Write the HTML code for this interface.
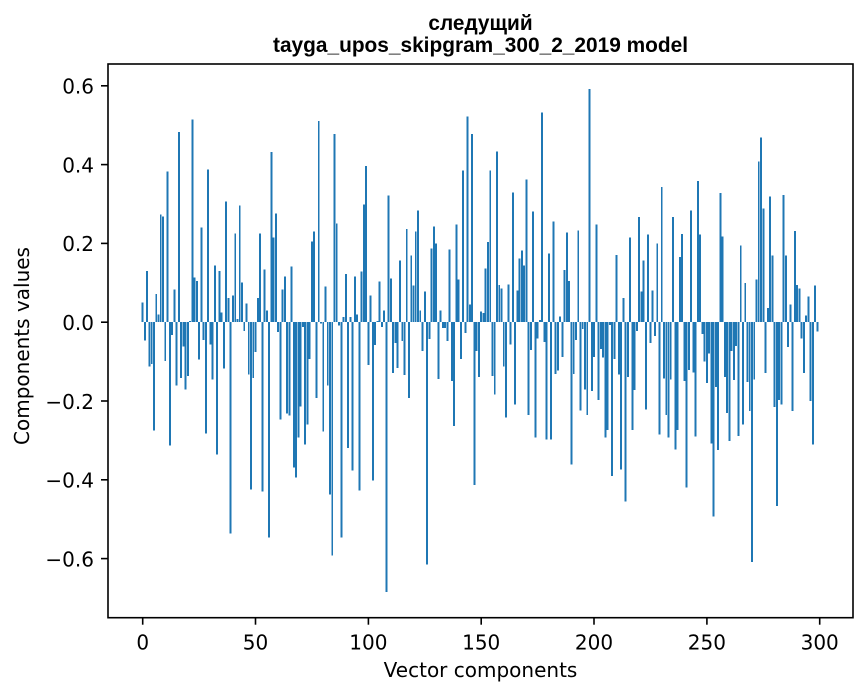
<!DOCTYPE html>
<html>
<head>
<meta charset="utf-8">
<style>
html,body{margin:0;padding:0;background:#fff;}
svg{display:block;}
.tk{font-family:"DejaVu Sans","Liberation Sans",sans-serif;font-size:20px;fill:#000;}
.tt{font-family:"Liberation Sans","DejaVu Sans",sans-serif;font-size:20.8px;font-weight:bold;fill:#000;}
</style>
</head>
<body>
<svg width="867" height="696" viewBox="0 0 867 696" xmlns="http://www.w3.org/2000/svg">
<rect x="0" y="0" width="867" height="696" fill="#fff"/>
<g transform="translate(142.7,322.2) scale(2.2567,-394)">
<path fill="#1f77b4" shape-rendering="crispEdges" d="M-.43 0
h.86V.05h-.86zm1 0h.86V-.047h-.86zm1 0h.86V.13h-.86zm1 0h.86V-.113h-.86zm1 0h.86V-.106h-.86zm1 0h.86V-.275h-.86zm1 0h.86V.071h-.86zm1 0h.86V.02h-.86zm1 0h.86V.273h-.86zm1 0h.86V.268h-.86zm1 0
h.86V-.098h-.86zm1 0h.86V.382h-.86zm1 0h.86V-.313h-.86zm1 0h.86V-.032h-.86zm1 0h.86V.083h-.86zm1 0h.86V-.161h-.86zm1 0h.86V.483h-.86zm1 0h.86V-.141h-.86zm1 0h.86V-.062h-.86zm1 0h.86V-.171h-.86zm1 0
h.86V-.136h-.86zm1 0h.86V.003h-.86zm1 0h.86V.514h-.86zm1 0h.86V.114h-.86zm1 0h.86V.104h-.86zm1 0h.86V-.095h-.86zm1 0h.86V.24h-.86zm1 0h.86V-.045h-.86zm1 0h.86V-.283h-.86zm1 0h.86V.387h-.86zm1 0
h.86V-.057h-.86zm1 0h.86V-.146h-.86zm1 0h.86V.144h-.86zm1 0h.86V-.336h-.86zm1 0h.86V.13h-.86zm1 0h.86V.025h-.86zm1 0h.86V-.118h-.86zm1 0h.86V.306h-.86zm1 0h.86V.061h-.86zm1 0h.86V-.536h-.86zm1 0
h.86V.068h-.86zm1 0h.86V.225h-.86zm1 0h.86V.008h-.86zm1 0h.86V.296h-.86zm1 0h.86V.101h-.86zm1 0h.86V-.022h-.86zm1 0h.86V.048h-.86zm1 0h.86V-.133h-.86zm1 0h.86V-.424h-.86zm1 0h.86V-.141h-.86zm1 0
h.86V-.075h-.86zm1 0h.86V.061h-.86zm1 0h.86V.225h-.86zm1 0h.86V-.43h-.86zm1 0h.86V.134h-.86zm1 0h.86V.03h-.86zm1 0h.86V-.547h-.86zm1 0h.86V.432h-.86zm1 0h.86V.215h-.86zm1 0h.86V.276h-.86zm1 0
h.86V-.025h-.86zm1 0h.86V-.247h-.86zm1 0h.86V.083h-.86zm1 0h.86V.116h-.86zm1 0h.86V-.232h-.86zm1 0h.86V-.237h-.86zm1 0h.86V.142h-.86zm1 0h.86V-.369h-.86zm1 0h.86V-.394h-.86zm1 0h.86V-.293h-.86zm1 0
h.86V-.214h-.86zm1 0h.86V-.012h-.86zm1 0h.86V-.31h-.86zm1 0h.86V-.26h-.86zm1 0h.86V-.093h-.86zm1 0h.86V.205h-.86zm1 0h.86V.23h-.86zm1 0h.86V-.192h-.86zm1 0h.86V.511h-.86zm1 0h.86V-.003h-.86zm1 0
h.86V-.278h-.86zm1 0h.86V.091h-.86zm1 0h.86V-.161h-.86zm1 0h.86V-.437h-.86zm1 0h.86V-.592h-.86zm1 0h.86V.478h-.86zm1 0h.86V.251h-.86zm1 0h.86V-.009h-.86zm1 0h.86V-.547h-.86zm1 0h.86V.013h-.86zm1 0
h.86V.122h-.86zm1 0h.86V-.319h-.86zm1 0h.86V.013h-.86zm1 0h.86V-.376h-.86zm1 0h.86V.116h-.86zm1 0h.86V.02h-.86zm1 0h.86V-.427h-.86zm1 0h.86V.129h-.86zm1 0h.86V.299h-.86zm1 0h.86V.397h-.86zm1 0
h.86V-.108h-.86zm1 0h.86V.068h-.86zm1 0h.86V-.402h-.86zm1 0h.86V-.058h-.86zm1 0h.86V.003h-.86zm1 0h.86V.103h-.86zm1 0h.86V-.012h-.86zm1 0h.86V.03h-.86zm1 0h.86V-.685h-.86zm1 0h.86V.321h-.86zm1 0
h.86V.111h-.86zm1 0h.86V-.129h-.86zm1 0h.86V-.053h-.86zm1 0h.86V-.116h-.86zm1 0h.86V.156h-.86zm1 0h.86V-.048h-.86zm1 0h.86V-.134h-.86zm1 0h.86V.237h-.86zm1 0h.86V-.192h-.86zm1 0h.86V.169h-.86zm1 0
h.86V.093h-.86zm1 0h.86V.23h-.86zm1 0h.86V.284h-.86zm1 0h.86V.03h-.86zm1 0h.86V-.073h-.86zm1 0h.86V.078h-.86zm1 0h.86V-.615h-.86zm1 0h.86V-.043h-.86zm1 0h.86V.187h-.86zm1 0h.86V.243h-.86zm1 0
h.86V.2h-.86zm1 0h.86V-.144h-.86zm1 0h.86V.03h-.86zm1 0h.86V-.015h-.86zm1 0h.86V-.015h-.86zm1 0h.86V-.048h-.86zm1 0h.86V.184h-.86zm1 0h.86V-.149h-.86zm1 0h.86V-.264h-.86zm1 0h.86V.248h-.86zm1 0
h.86V.108h-.86zm1 0h.86V-.093h-.86zm1 0h.86V.385h-.86zm1 0h.86V-.028h-.86zm1 0h.86V.522h-.86zm1 0h.86V.045h-.86zm1 0h.86V.478h-.86zm1 0h.86V-.413h-.86zm1 0h.86V-.073h-.86zm1 0h.86V-.139h-.86zm1 0
h.86V.027h-.86zm1 0h.86V.023h-.86zm1 0h.86V.136h-.86zm1 0h.86V.203h-.86zm1 0h.86V.385h-.86zm1 0h.86V-.136h-.86zm1 0h.86V-.184h-.86zm1 0h.86V.433h-.86zm1 0h.86V.094h-.86zm1 0h.86V.086h-.86zm1 0
h.86V-.113h-.86zm1 0h.86V-.242h-.86zm1 0h.86V.096h-.86zm1 0h.86V-.057h-.86zm1 0h.86V.329h-.86zm1 0h.86V-.209h-.86zm1 0h.86V.081h-.86zm1 0h.86V.162h-.86zm1 0h.86V.182h-.86zm1 0h.86V.144h-.86zm1 0
h.86V.362h-.86zm1 0h.86V-.235h-.86zm1 0h.86V-.07h-.86zm1 0h.86V.281h-.86zm1 0h.86V-.293h-.86zm1 0h.86V-.042h-.86zm1 0h.86V.005h-.86zm1 0h.86V.532h-.86zm1 0h.86V-.05h-.86zm1 0h.86V-.298h-.86zm1 0
h.86V.175h-.86zm1 0h.86V-.298h-.86zm1 0h.86V.256h-.86zm1 0h.86V-.131h-.86zm1 0h.86V-.123h-.86zm1 0h.86V.015h-.86zm1 0h.86V-.088h-.86zm1 0h.86V.132h-.86zm1 0h.86V.228h-.86zm1 0h.86V.104h-.86zm1 0
h.86V-.361h-.86zm1 0h.86V-.131h-.86zm1 0h.86V-.045h-.86zm1 0h.86V.233h-.86zm1 0h.86V-.224h-.86zm1 0h.86V-.017h-.86zm1 0h.86V-.171h-.86zm1 0h.86V-.235h-.86zm1 0h.86V.592h-.86zm1 0h.86V-.174h-.86zm1 0
h.86V-.088h-.86zm1 0h.86V.248h-.86zm1 0h.86V-.197h-.86zm1 0h.86V-.068h-.86zm1 0h.86V-.09h-.86zm1 0h.86V-.293h-.86zm1 0h.86V-.273h-.86zm1 0h.86V-.007h-.86zm1 0h.86V-.39h-.86zm1 0h.86V-.093h-.86zm1 0
h.86V.171h-.86zm1 0h.86V-.133h-.86zm1 0h.86V-.374h-.86zm1 0h.86V.062h-.86zm1 0h.86V-.455h-.86zm1 0h.86V-.139h-.86zm1 0h.86V.215h-.86zm1 0h.86V-.273h-.86zm1 0h.86V-.172h-.86zm1 0h.86V-.022h-.86zm1 0
h.86V.267h-.86zm1 0h.86V.078h-.86zm1 0h.86V.156h-.86zm1 0h.86V-.222h-.86zm1 0h.86V.222h-.86zm1 0h.86V-.053h-.86zm1 0h.86V.08h-.86zm1 0h.86V-.035h-.86zm1 0h.86V.2h-.86zm1 0h.86V-.285h-.86zm1 0
h.86V.343h-.86zm1 0h.86V-.143h-.86zm1 0h.86V-.235h-.86zm1 0h.86V-.293h-.86zm1 0h.86V-.146h-.86zm1 0h.86V.267h-.86zm1 0h.86V-.323h-.86zm1 0h.86V-.273h-.86zm1 0h.86V.166h-.86zm1 0h.86V.224h-.86zm1 0
h.86V-.149h-.86zm1 0h.86V-.42h-.86zm1 0h.86V-.121h-.86zm1 0h.86V.283h-.86zm1 0h.86V-.128h-.86zm1 0h.86V-.29h-.86zm1 0h.86V.359h-.86zm1 0h.86V.222h-.86zm1 0h.86V-.03h-.86zm1 0h.86V-.1h-.86zm1 0
h.86V-.154h-.86zm1 0h.86V-.08h-.86zm1 0h.86V-.308h-.86zm1 0h.86V-.493h-.86zm1 0h.86V-.165h-.86zm1 0h.86V-.324h-.86zm1 0h.86V.328h-.86zm1 0h.86V.217h-.86zm1 0h.86V-.139h-.86zm1 0h.86V-.23h-.86zm1 0
h.86V-.301h-.86zm1 0h.86V-.073h-.86zm1 0h.86V-.147h-.86zm1 0h.86V-.061h-.86zm1 0h.86V-.289h-.86zm1 0h.86V.195h-.86zm1 0h.86V-.26h-.86zm1 0h.86V.099h-.86zm1 0h.86V-.152h-.86zm1 0h.86V-.225h-.86zm1 0
h.86V-.608h-.86zm1 0h.86V-.146h-.86zm1 0h.86V.109h-.86zm1 0h.86V.408h-.86zm1 0h.86V.469h-.86zm1 0h.86V.289h-.86zm1 0h.86V-.129h-.86zm1 0h.86V.036h-.86zm1 0h.86V.319h-.86zm1 0h.86V.169h-.86zm1 0
h.86V-.215h-.86zm1 0h.86V-.466h-.86zm1 0h.86V-.197h-.86zm1 0h.86V-.209h-.86zm1 0h.86V.323h-.86zm1 0h.86V.169h-.86zm1 0h.86V-.063h-.86zm1 0h.86V.045h-.86zm1 0h.86V-.225h-.86zm1 0h.86V.232h-.86zm1 0
h.86V.095h-.86zm1 0h.86V.086h-.86zm1 0h.86V-.042h-.86zm1 0h.86V-.129h-.86zm1 0h.86V.017h-.86zm1 0h.86V.065h-.86zm1 0h.86V-.2h-.86zm1 0h.86V-.311h-.86zm1 0h.86V.093h-.86zm1 0h.86V-.024h-.86z"/>
</g>

<!-- axes frame -->
<rect x="108" y="64" width="745" height="553.7" fill="none" stroke="#000" stroke-width="1.6"/>

<!-- y ticks -->
<g stroke="#000" stroke-width="1.6">
<line x1="101" y1="85.8" x2="108" y2="85.8"/>
<line x1="101" y1="164.6" x2="108" y2="164.6"/>
<line x1="101" y1="243.4" x2="108" y2="243.4"/>
<line x1="101" y1="322.2" x2="108" y2="322.2"/>
<line x1="101" y1="401" x2="108" y2="401"/>
<line x1="101" y1="479.8" x2="108" y2="479.8"/>
<line x1="101" y1="558.6" x2="108" y2="558.6"/>
</g>
<g class="tk" text-anchor="end">
<text x="94" y="93.6">0.6</text>
<text x="94" y="172.4">0.4</text>
<text x="94" y="251.2">0.2</text>
<text x="94" y="330">0.0</text>
<text x="94" y="408.8">−0.2</text>
<text x="94" y="487.6">−0.4</text>
<text x="94" y="566.4">−0.6</text>
</g>

<!-- x ticks -->
<g stroke="#000" stroke-width="1.6">
<line x1="142.7" y1="617.7" x2="142.7" y2="624.7"/>
<line x1="255.5" y1="617.7" x2="255.5" y2="624.7"/>
<line x1="368.4" y1="617.7" x2="368.4" y2="624.7"/>
<line x1="481.2" y1="617.7" x2="481.2" y2="624.7"/>
<line x1="594.0" y1="617.7" x2="594.0" y2="624.7"/>
<line x1="706.9" y1="617.7" x2="706.9" y2="624.7"/>
<line x1="819.7" y1="617.7" x2="819.7" y2="624.7"/>
</g>
<g class="tk" text-anchor="middle">
<text x="142.7" y="649.5">0</text>
<text x="255.5" y="649.5">50</text>
<text x="368.4" y="649.5">100</text>
<text x="481.2" y="649.5">150</text>
<text x="594.0" y="649.5">200</text>
<text x="706.9" y="649.5">250</text>
<text x="819.7" y="649.5">300</text>
</g>

<!-- axis labels -->
<text class="tk" x="480.5" y="677" text-anchor="middle">Vector components</text>
<text class="tk" x="0" y="0" text-anchor="middle" transform="translate(29,346) rotate(-90)">Components values</text>

<!-- title -->
<text class="tt" x="480.5" y="30" text-anchor="middle">следущий</text>
<text class="tt" x="480.5" y="52" text-anchor="middle" textLength="415" lengthAdjust="spacingAndGlyphs">tayga_upos_skipgram_300_2_2019 model</text>
</svg>
</body>
</html>
